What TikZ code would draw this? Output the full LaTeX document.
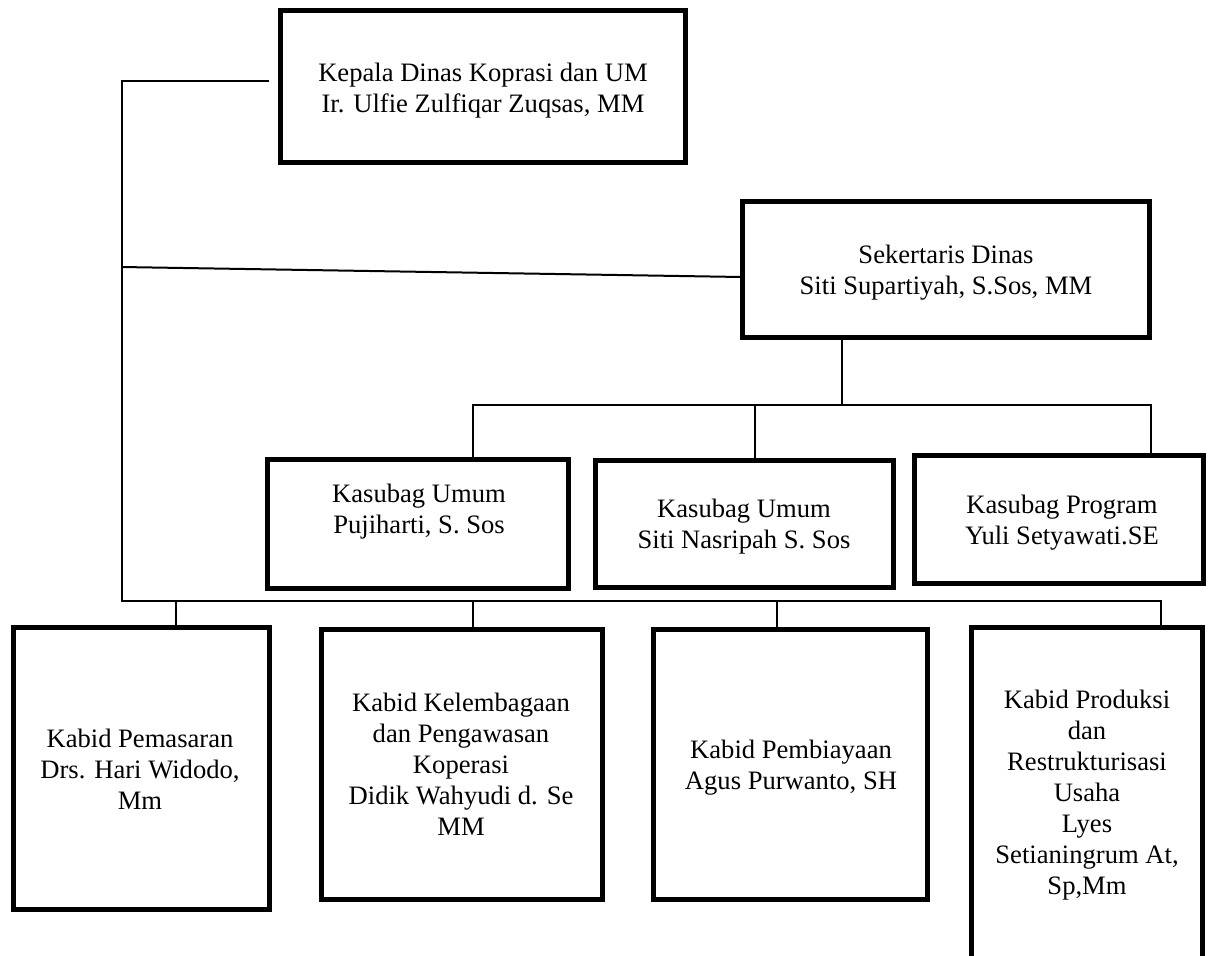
\documentclass[tikz,border=0pt]{standalone}
\usepackage{fontspec}
\setmainfont{Liberation Serif}
\begin{document}
\begin{tikzpicture}[x=0.5pt,y=-0.5pt,
  box/.style={draw, line width=2.5pt, inner sep=0pt},
  txt/.style={align=center, inner sep=0pt, font=\fontsize{13.3pt}{15.5pt}\selectfont},
  link/.style={line width=1pt}]
\useasboundingbox (0,0) rectangle (1208,955);
% boxes
\node[box, minimum width=202.5pt, minimum height=76pt]   (kepala) at (482.5,86) {};
\node[box, minimum width=203.5pt, minimum height=68pt]   (sek)    at (945.5,269) {};
\node[box, minimum width=150.5pt, minimum height=64.5pt] (k1)     at (417.5,523.5) {};
\node[box, minimum width=149pt,   minimum height=63.5pt] (k2)     at (744,523.5) {};
\node[box, minimum width=144.5pt, minimum height=64pt]   (k3)     at (1058.5,519) {};
\node[box, minimum width=128pt,   minimum height=141pt]  (pem)    at (141,768) {};
\node[box, minimum width=140.25pt,minimum height=135pt]  (kel)    at (461.75,764) {};
\node[box, minimum width=137pt,   minimum height=135pt]  (bia)    at (790.5,764) {};
\node[box, minimum width=115.75pt,minimum height=176.5pt](pro)    at (1087,803.5) {};
% texts
\node[txt] (tkepala) at (483,90.3) {\strut Kepala Dinas Koprasi dan UM\\\strut Ir. Ulfie Zulfiqar Zuqsas, MM};
\node[txt] (tsek) at (946,272.3) {\strut Sekertaris Dinas\\\strut Siti Supartiyah, S.Sos, MM};
\node[txt] (tk1) at (419,511.3) {\strut Kasubag Umum\\\strut Pujiharti, S. Sos};
\node[txt] (tk2) at (744,526.3) {\strut Kasubag Umum\\\strut Siti Nasripah S. Sos};
\node[txt] (tk3) at (1062,522.3) {\strut Kasubag Program\\\strut Yuli Setyawati.SE};
\node[txt] (tpem) at (140,771.8) {\strut Kabid Pemasaran\\\strut Drs. Hari Widodo,\\\strut Mm};
\node[txt] (tkel) at (461,767.3) {\strut Kabid Kelembagaan\\\strut dan Pengawasan\\\strut Koperasi\\\strut Didik Wahyudi d. Se\\\strut MM};
\node[txt] (tbia) at (791,767.3) {\strut Kabid Pembiayaan\\\strut Agus Purwanto, SH};
\node[txt] (tpro) at (1087,795.3) {\strut Kabid Produksi\\\strut dan\\\strut Restrukturisasi\\\strut Usaha\\\strut Lyes\\\strut Setianingrum At,\\\strut Sp,Mm};
% connector points
\coordinate (kgap) at (269,81);
\coordinate (tl) at (122,81);
\coordinate (bl) at (122,601);
\coordinate (br) at (1161,601);
\coordinate (sl) at (122,267);
\coordinate (sin) at (742,277);
\coordinate (sd) at (842,405);
\coordinate (ubl) at (473,405);
\coordinate (ubm) at (755,405);
\coordinate (ubr) at (1151,405);
\coordinate (lb1) at (176,601);
\coordinate (lb2) at (473,601);
\coordinate (lb3) at (777,601);
% connectors
\draw[link] (kgap) -- (tl) -- (bl) -- (br) -- (br |- pro.north);
\draw[link] (sl) -- (sin);
\draw[link] (sd |- sek.south) -- (sd);
\draw[link] (ubl |- k1.north) -- (ubl) -- (ubr) -- (ubr |- k3.north);
\draw[link] (ubm) -- (ubm |- k2.north);
\draw[link] (lb1) -- (lb1 |- pem.north);
\draw[link] (lb2) -- (lb2 |- kel.north);
\draw[link] (lb3) -- (lb3 |- bia.north);
\end{tikzpicture}
\end{document}
